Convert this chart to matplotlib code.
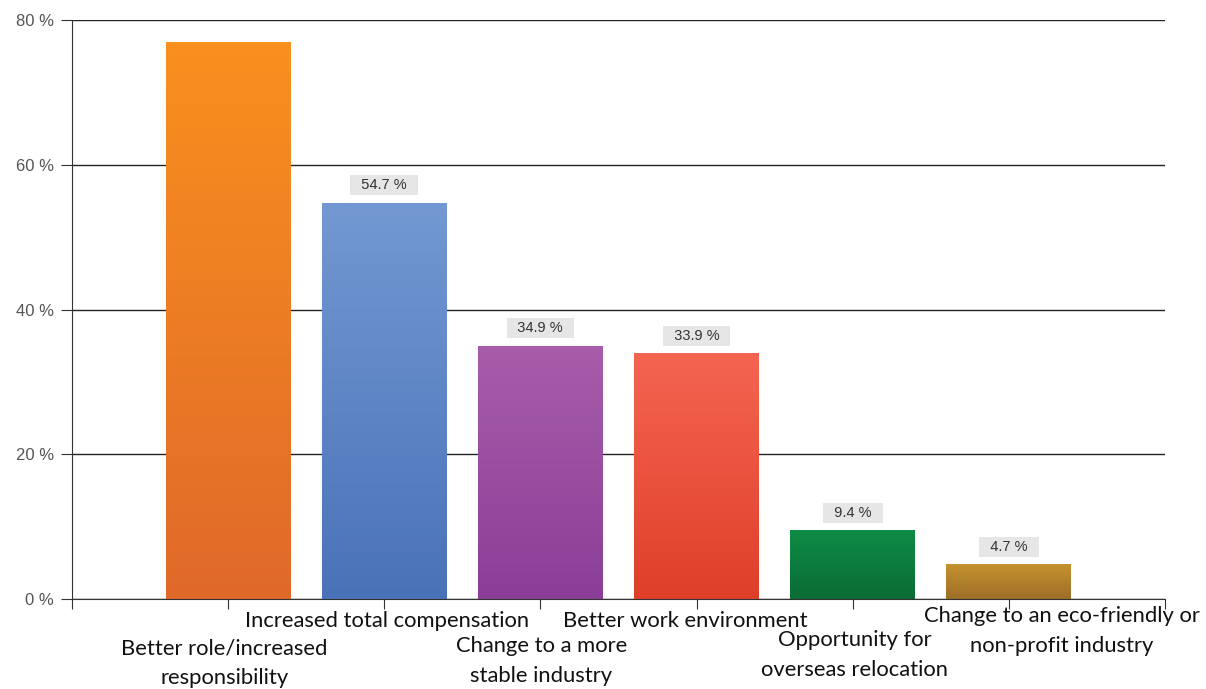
import numpy as np
import matplotlib.pyplot as plt
from matplotlib.colors import LinearSegmentedColormap

categories = ["Better role/increased\nresponsibility",
              "Increased total compensation",
              "Change to a more\nstable industry",
              "Better work environment",
              "Opportunity for\noverseas relocation",
              "Change to an eco-friendly or\nnon-profit industry"]
values = [76.9, 54.7, 34.9, 33.9, 9.4, 4.7]
show_label = [False, True, True, True, True, True]
yticks = [0, 20, 40, 60, 80]

top_colors = ["#F9901E", "#7398D2", "#A75DAA", "#F46552", "#0F8C46", "#C5922F"]
bottom_colors = ["#E0692A", "#4A72B8", "#8A3E97", "#DF3F29", "#0A6C34", "#9E6E27"]

# label placement (pixel offsets from tick, below the axis)
lab_dx = [-4, 3, 1, -11, 2, 53]
lab_dy = [64, 22, 62, 22, 56, 32]

fig = plt.figure(figsize=(12.06, 6.89), dpi=100)
ax = fig.add_axes([72 / 1206, 90 / 689, (1165 - 72) / 1206, 579 / 689])

x = np.arange(len(values))
bars = ax.bar(x, values, width=0.8, color="none", zorder=2)

grad = np.linspace(0, 1, 256).reshape(-1, 1)
for b, c0, c1 in zip(bars, top_colors, bottom_colors):
    cmap = LinearSegmentedColormap.from_list("g", [c1, c0])
    ax.imshow(grad, cmap=cmap, origin="lower", aspect="auto", zorder=2,
              extent=[b.get_x(), b.get_x() + b.get_width(), 0, b.get_height()])

for i, v in enumerate(values):
    if show_label[i]:
        ax.annotate(f"  {v:.1f} %  ", xy=(i, v), xytext=(0, 18), textcoords="offset pixels",
                    ha="center", va="center", fontsize=10.5, family="Liberation Sans",
                    color="#333333",
                    bbox=dict(boxstyle="square,pad=0.2", fc="#E6E6E6", ec="none"))

for i, lab in enumerate(categories):
    ax.annotate(lab, xy=(i, 0), xycoords=("data", "axes fraction"),
                xytext=(lab_dx[i], -lab_dy[i]), textcoords="offset pixels",
                ha="center", va="center", fontsize=15.8, family="Lato",
                color="#111111", linespacing=1.6, annotation_clip=False)

ax.set_xlim(-1, 6)
ax.set_ylim(0, 80)
ax.set_yticks(yticks)
ax.set_yticklabels([f"{t} %" for t in yticks], family="Liberation Sans")
ax.set_xticks(np.arange(-1, 7))
ax.set_xticklabels([])
ax.yaxis.grid(True, color="#222222", linewidth=1.0, zorder=1)
ax.set_axisbelow(True)
ax.tick_params(axis="y", length=8, color="#333333", labelcolor="#555555", labelsize=12, pad=5)
ax.tick_params(axis="x", length=7, color="#333333")
for s in ["top", "right"]:
    ax.spines[s].set_visible(False)
ax.spines["left"].set_color("#333333")
ax.spines["bottom"].set_color("#333333")

fig.savefig("out.png", dpi=100)
